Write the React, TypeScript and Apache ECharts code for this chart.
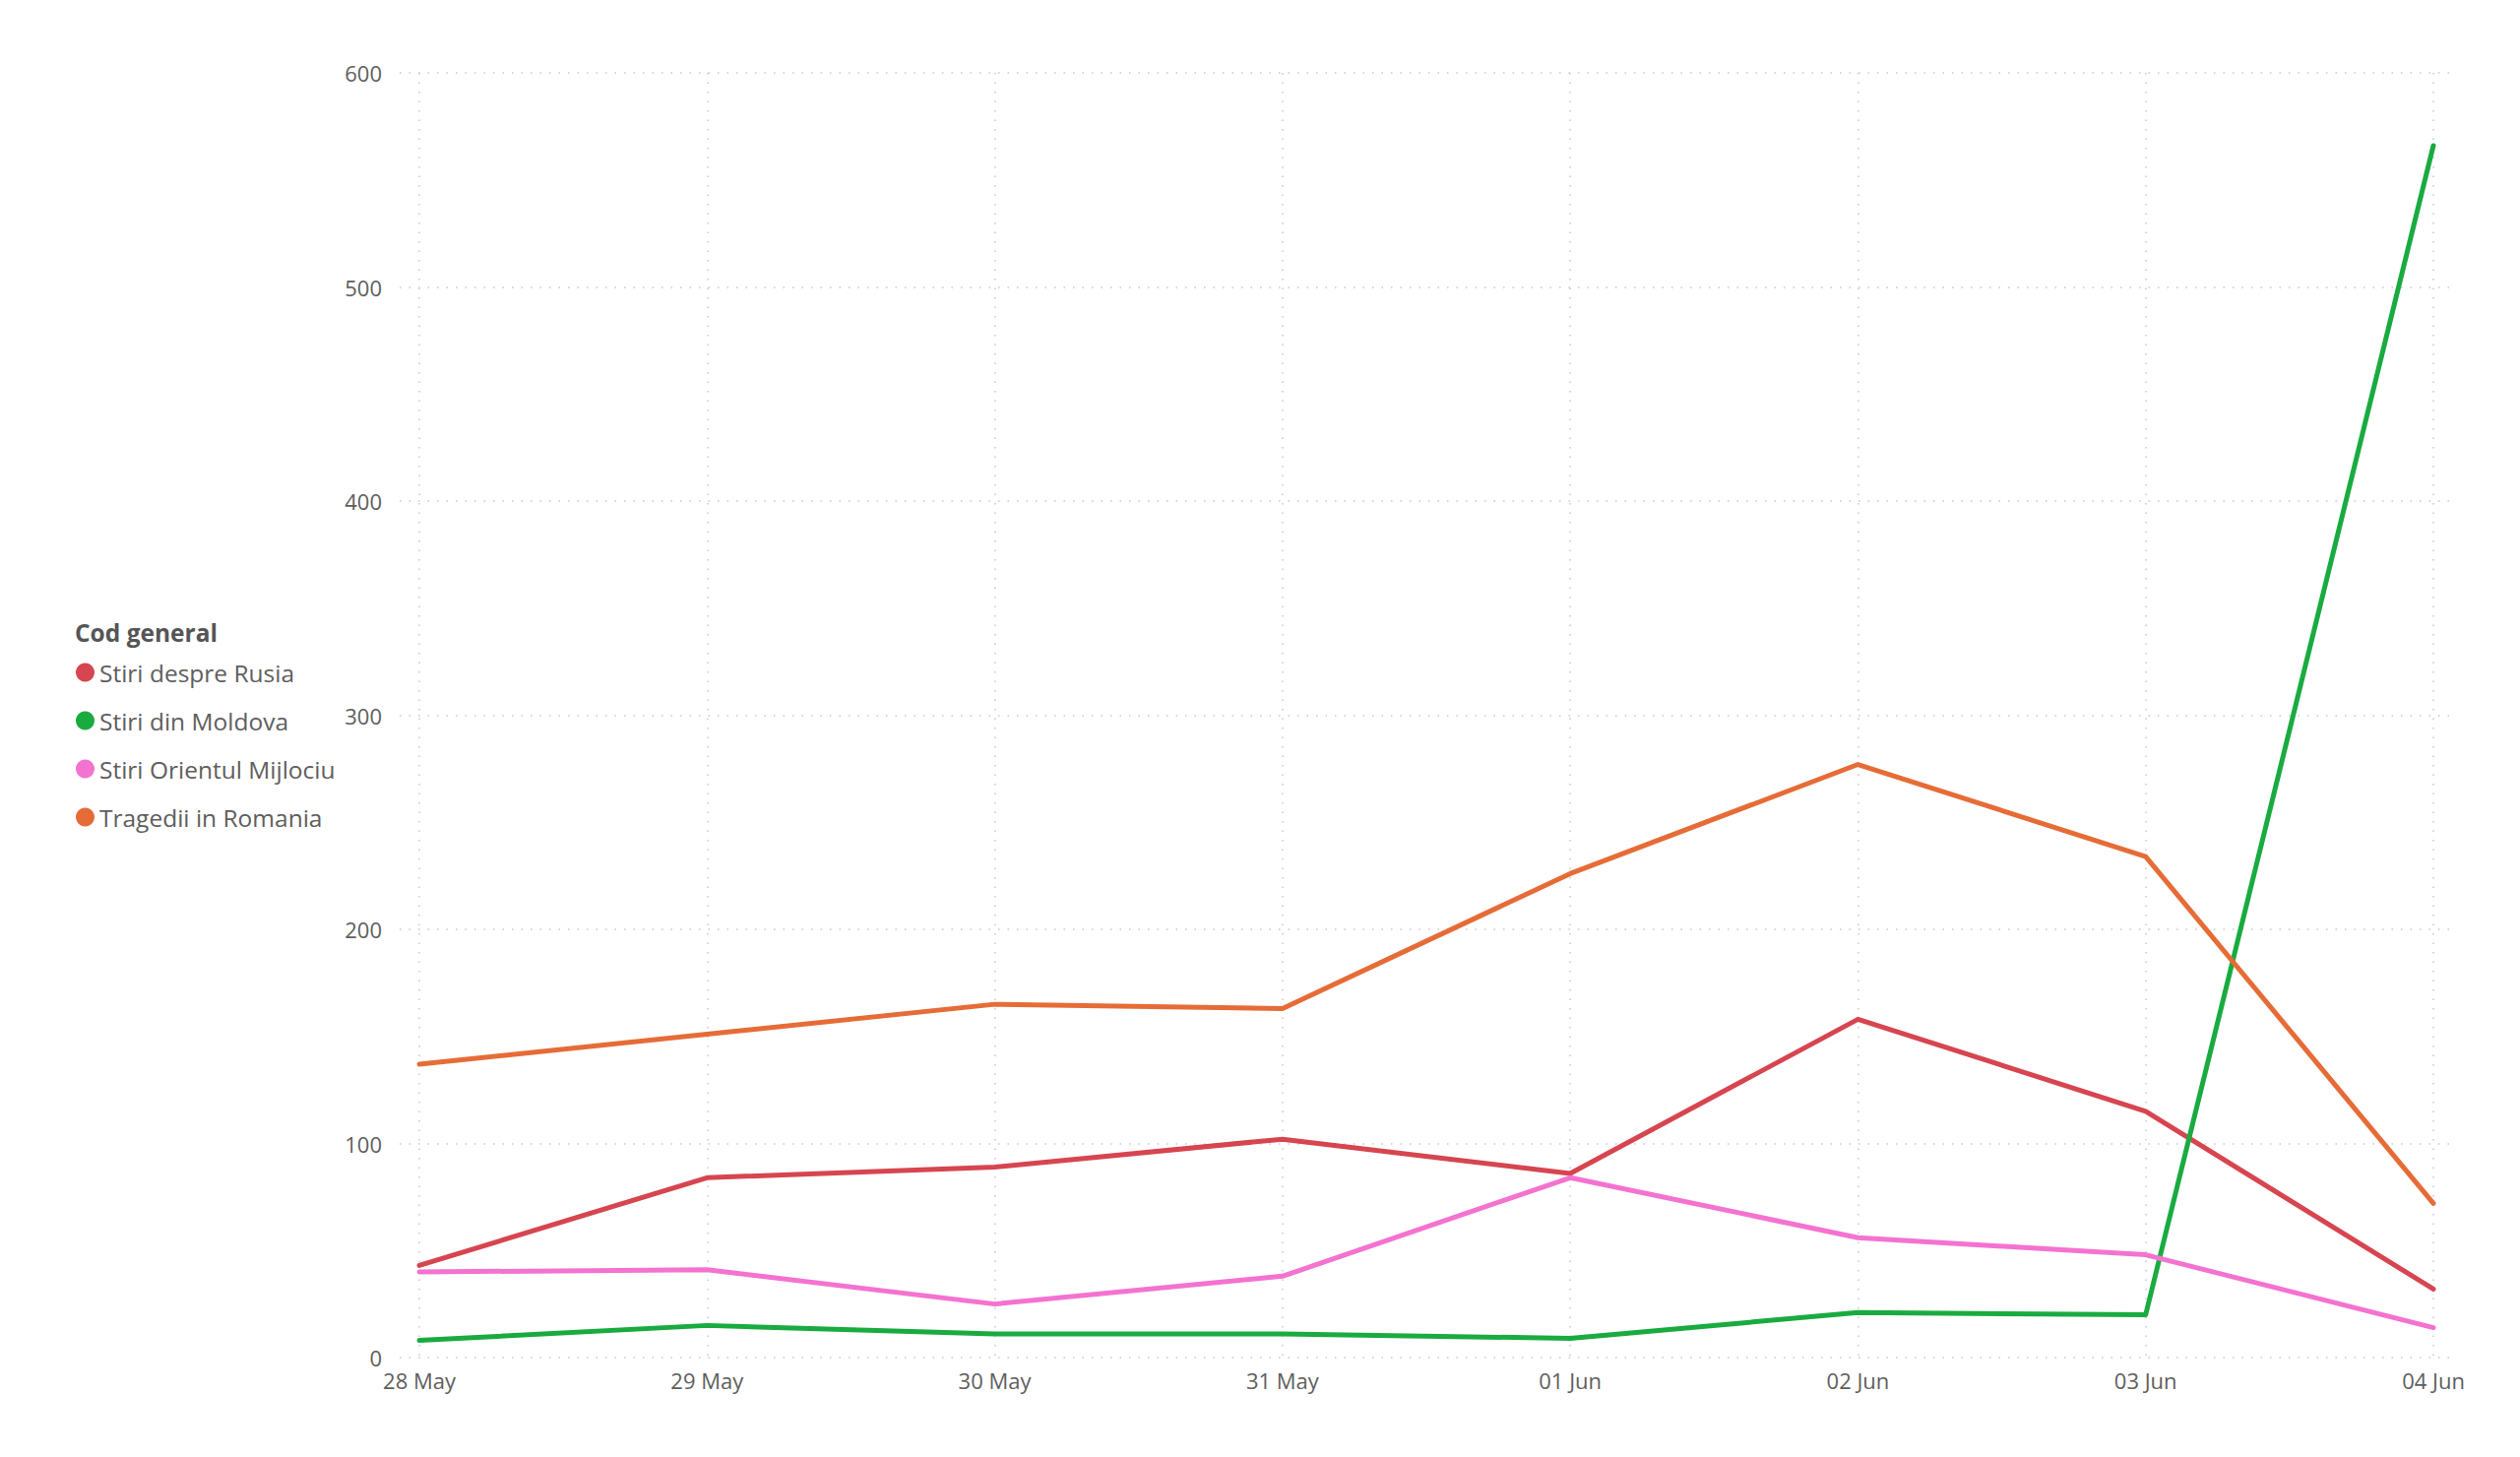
import React, { useEffect, useRef } from "react";
import * as echarts from "echarts";

const categories = ["28 May", "29 May", "30 May", "31 May", "01 Jun", "02 Jun", "03 Jun", "04 Jun"];
const legendTitle = "Cod general";
const seriesNames = ["Stiri despre Rusia", "Stiri din Moldova", "Stiri Orientul Mijlociu", "Tragedii in Romania"];
const rusia = [43, 84, 89, 102, 86, 158, 115, 32];
const moldova = [8, 15, 11, 11, 9, 21, 20, 566];
const orient = [40, 41, 25, 38, 84, 56, 48, 14];
const tragedii = [137, 151, 165, 163, 226, 277, 234, 72];
const colors = ["#D64550", "#1AAB40", "#F472D0", "#E66C37"];
const yMin = 0;
const yMax = 600;
const yInterval = 100;

const FONT = "'Open Sans', 'Noto Sans', sans-serif";
const TEXT = "#605E5C";
const GRID = "#C8C8C8";

export default function App() {
  const ref = useRef<HTMLDivElement>(null);
  useEffect(() => {
    if (!ref.current) return;
    const chart = echarts.init(ref.current, undefined, { renderer: "svg" });
    const values = [rusia, moldova, orient, tragedii];
    const dotted = { color: GRID, width: 1.5, type: [1.5, 8] as any };
    chart.setOption({
      animation: false,
      backgroundColor: "#ffffff",
      textStyle: { fontFamily: FONT },
      title: {
        text: legendTitle,
        left: 76,
        top: 630,
        padding: 0,
        textStyle: { fontFamily: FONT, fontSize: 24.5, fontWeight: "bold", color: "#555555" },
      },
      legend: {
        orient: "vertical",
        left: 77,
        top: 668,
        padding: 0,
        icon: "circle",
        itemWidth: 19,
        itemHeight: 19,
        itemGap: 19,
        data: seriesNames,
        textStyle: { fontFamily: FONT, fontSize: 24.5, color: TEXT, lineHeight: 30 },
      },
      grid: [
        { left: 406, right: 70, top: 74, bottom: 101, containLabel: false },
        { left: 426, right: 88, top: 74, bottom: 101, containLabel: false },
      ],
      xAxis: [
        { type: "value", gridIndex: 0, show: false, min: 0, max: 1 },
        {
          type: "category",
          gridIndex: 1,
          data: categories,
          boundaryGap: false,
          axisLine: { show: false },
          axisTick: { show: false },
          axisLabel: { color: TEXT, fontSize: 22, fontFamily: FONT, margin: 12 },
          splitLine: { show: true, lineStyle: dotted },
        },
      ],
      yAxis: [
        {
          type: "value",
          gridIndex: 0,
          min: yMin,
          max: yMax,
          interval: yInterval,
          axisLine: { show: false },
          axisTick: { show: false },
          axisLabel: { color: TEXT, fontSize: 22, fontFamily: FONT, margin: 18 },
          splitLine: { show: true, lineStyle: dotted },
        },
        {
          type: "value",
          gridIndex: 1,
          min: yMin,
          max: yMax,
          interval: yInterval,
          show: false,
          splitLine: { show: false },
        },
      ],
      series: seriesNames.map((name, i) => ({
        name,
        type: "line",
        xAxisIndex: 1,
        yAxisIndex: 1,
        data: values[i],
        symbol: "none",
        showSymbol: false,
        color: colors[i],
        lineStyle: { width: 5, color: colors[i], cap: "round", join: "round" },
        itemStyle: { color: colors[i] },
      })),
    });
    return () => chart.dispose();
  }, []);
  return (
    <div
      ref={ref}
      style={{ position: "fixed", left: 0, top: 0, width: 2560, height: 1480, background: "#fff" }}
    />
  );
}
